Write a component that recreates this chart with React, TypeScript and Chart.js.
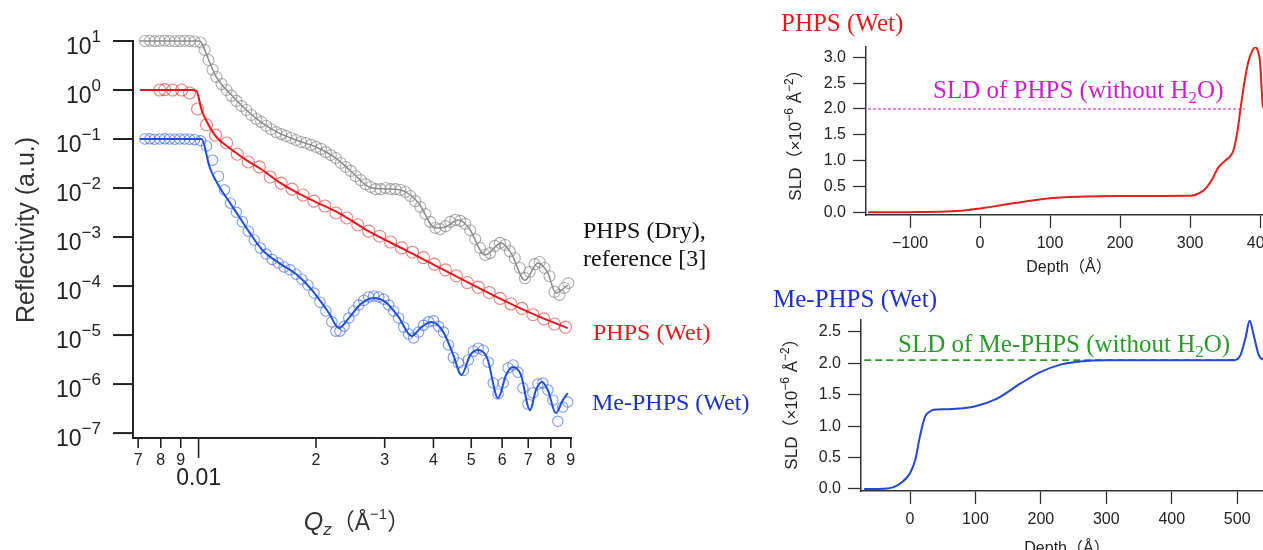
import React, { useEffect, useRef } from "react";
import { Chart, registerables } from "chart.js";
Chart.register(...registerables);

const SANS = "'Liberation Sans', Arial, sans-serif";
const SERIF = "'Liberation Serif', 'Times New Roman', serif";
const CJK = "'Liberation Sans', 'Noto Sans CJK JP', sans-serif";

// ---------- Reflectivity (left panel) ----------
// PHPS (Dry), reference [3]  (offset x10)
const dryFitQ = [0.00707, 0.01006, 0.0103, 0.01054, 0.01111, 0.012, 0.01326, 0.01457, 0.01609, 0.01778, 0.02, 0.02249, 0.02471, 0.02779, 0.0307, 0.03394, 0.03663, 0.04047, 0.04293, 0.04632, 0.04912, 0.05429, 0.05965, 0.06324, 0.06866, 0.07412, 0.0786, 0.08237, 0.08838];
const dryFitR = [10, 10, 7.6, 4.71, 1.84, 0.869, 0.391, 0.212, 0.132, 0.0955, 0.0687, 0.0409, 0.0212, 0.01, 0.00955, 0.00832, 0.00494, 0.00153, 0.0016, 0.00222, 0.0016, 0.00043, 0.000755, 0.000471, 0.000132, 0.000294, 0.000184, 0.0000719, 0.000105];
const dryQ = [0.00728, 0.0075, 0.00772, 0.00795, 0.00819, 0.00843, 0.00869, 0.00895, 0.00921, 0.00948, 0.00977, 0.01012, 0.01036, 0.0106, 0.01086, 0.01111, 0.01145, 0.0118, 0.01214, 0.0125, 0.01288, 0.01326, 0.01365, 0.01406, 0.01447, 0.0149, 0.01535, 0.01581, 0.01628, 0.01676, 0.01727, 0.01778, 0.01831, 0.01885, 0.01941, 0.02, 0.02059, 0.0212, 0.02183, 0.02249, 0.02316, 0.02384, 0.02456, 0.02529, 0.02604, 0.02681, 0.02761, 0.02843, 0.02927, 0.03014, 0.03104, 0.03196, 0.03291, 0.03394, 0.03492, 0.03596, 0.03703, 0.03813, 0.03926, 0.04047, 0.0416, 0.04293, 0.0442, 0.04552, 0.04687, 0.04826, 0.04969, 0.05117, 0.05269, 0.05429, 0.05586, 0.05752, 0.05923, 0.06107, 0.0628, 0.06467, 0.06659, 0.06866, 0.0706, 0.0727, 0.07486, 0.07708, 0.07937, 0.08173, 0.08416, 0.08666, 0.0887];
const dryR = [10, 10.1, 9.9, 10, 10.1, 10, 9.9, 10, 10.1, 10, 9.8, 9.3, 6.6, 4.1, 2.6, 1.84, 1.32, 1.0, 0.76, 0.6, 0.47, 0.39, 0.31, 0.257, 0.224, 0.186, 0.158, 0.138, 0.126, 0.115, 0.105, 0.0955, 0.087, 0.083, 0.076, 0.069, 0.063, 0.054, 0.047, 0.041, 0.0324, 0.0269, 0.0224, 0.0174, 0.0145, 0.012, 0.0105, 0.0095, 0.0095, 0.01, 0.0095, 0.0095, 0.0091, 0.0083, 0.0069, 0.0054, 0.0041, 0.00295, 0.00204, 0.00153, 0.00145, 0.00167, 0.00204, 0.00224, 0.00214, 0.00186, 0.00138, 0.00091, 0.0006, 0.00043, 0.00047, 0.00066, 0.00076, 0.00069, 0.00051, 0.00037, 0.000234, 0.000145, 0.000195, 0.00028, 0.00031, 0.000234, 0.000158, 0.000076, 0.000066, 0.000091, 0.000115];

// PHPS (Wet)
const wetFitQ = [0.00707, 0.0096, 0.00988, 0.01018, 0.01054, 0.01111, 0.012, 0.01326, 0.01457, 0.01609, 0.01778, 0.02, 0.0229, 0.02779, 0.03394, 0.04119, 0.05, 0.06107, 0.07412, 0.08838];
const wetFitR = [1, 1, 0.95, 0.391, 0.212, 0.11, 0.0655, 0.0372, 0.0233, 0.0132, 0.00828, 0.00518, 0.00309, 0.00121, 0.000543, 0.000244, 0.00011, 0.0000494, 0.0000244, 0.0000139];
const wetQ = [0.00795, 0.00819, 0.00858, 0.00905, 0.00948, 0.00994, 0.01048, 0.01105, 0.0118, 0.01257, 0.01341, 0.01431, 0.01526, 0.01628, 0.01737, 0.01853, 0.01976, 0.02108, 0.02249, 0.02399, 0.02559, 0.0273, 0.02912, 0.03106, 0.03313, 0.03534, 0.0377, 0.04021, 0.04293, 0.04579, 0.04885, 0.05211, 0.0556, 0.0593, 0.06324, 0.06746, 0.07198, 0.07677, 0.08173, 0.0872];
const wetR = [1.0, 1.02, 1.0, 1.0, 0.87, 0.41, 0.195, 0.12, 0.083, 0.049, 0.034, 0.027, 0.0168, 0.0126, 0.0095, 0.0072, 0.0054, 0.0043, 0.0031, 0.00245, 0.00178, 0.00132, 0.00104, 0.00079, 0.0006, 0.00049, 0.00038, 0.00028, 0.000214, 0.000162, 0.000118, 0.000095, 0.000074, 0.000056, 0.000043, 0.000035, 0.000026, 0.0000214, 0.0000168, 0.0000145];

// Me-PHPS (Wet)  (offset x0.1)
const meFitQ = [0.00707, 0.01018, 0.01067, 0.01131, 0.012, 0.01272, 0.01349, 0.01457, 0.01609, 0.01778, 0.01953, 0.02159, 0.0229, 0.02428, 0.02605, 0.02812, 0.03017, 0.03257, 0.03515, 0.03728, 0.03954, 0.04243, 0.04499, 0.04716, 0.04972, 0.05211, 0.05494, 0.05859, 0.06141, 0.06399, 0.06707, 0.07071, 0.07325, 0.07588, 0.0786, 0.08237, 0.08584, 0.08838];
const meFitR = [0.1, 0.1, 0.0269, 0.0105, 0.00518, 0.00256, 0.00126, 0.000543, 0.000294, 0.000176, 0.0000828, 0.0000281, 0.0000139, 0.0000222, 0.000043, 0.0000569, 0.0000471, 0.0000233, 0.00000955, 0.0000146, 0.0000184, 0.0000115, 0.00000391, 0.00000153, 0.00000391, 0.00000494, 0.0000034, 5.18e-7, 1.53e-6, 2.22e-6, 1.53e-6, 2.94e-7, 7.55e-7, 1.1e-6, 7.55e-7, 2.56e-7, 4.71e-7, 6.55e-7];
const meQ = [0.00728, 0.0075, 0.00772, 0.00795, 0.00819, 0.00843, 0.00869, 0.00895, 0.00921, 0.00948, 0.00977, 0.01012, 0.01048, 0.01086, 0.01125, 0.01165, 0.01207, 0.0125, 0.01295, 0.01341, 0.01389, 0.01439, 0.0149, 0.01544, 0.01599, 0.01656, 0.01716, 0.01778, 0.0184, 0.01907, 0.01976, 0.02047, 0.0212, 0.02196, 0.02249, 0.02303, 0.0236, 0.02428, 0.025, 0.02574, 0.02651, 0.0273, 0.02812, 0.02896, 0.02982, 0.03071, 0.03163, 0.03257, 0.03355, 0.03455, 0.03558, 0.03664, 0.03774, 0.03887, 0.04003, 0.04122, 0.04243, 0.0437, 0.04499, 0.04634, 0.04773, 0.04915, 0.05062, 0.05211, 0.05368, 0.05528, 0.05693, 0.05859, 0.06036, 0.06217, 0.06399, 0.0659, 0.06786, 0.06988, 0.07196, 0.07412, 0.07634, 0.0786, 0.08094, 0.08336, 0.08584, 0.08838];
const meR = [0.1, 0.101, 0.099, 0.1, 0.101, 0.1, 0.099, 0.1, 0.1, 0.099, 0.097, 0.092, 0.072, 0.037, 0.0174, 0.0091, 0.0049, 0.0032, 0.00204, 0.00132, 0.00087, 0.0006, 0.00045, 0.00035, 0.000295, 0.000245, 0.000214, 0.000174, 0.000138, 0.000105, 0.000072, 0.000047, 0.000031, 0.0000186, 0.000012, 0.000012, 0.0000151, 0.0000224, 0.000031, 0.000041, 0.000051, 0.00006, 0.000063, 0.00006, 0.000054, 0.000041, 0.000031, 0.0000224, 0.0000145, 0.0000105, 0.0000087, 0.0000115, 0.0000158, 0.0000186, 0.0000195, 0.0000151, 0.0000115, 0.0000063, 0.0000035, 0.0000027, 0.0000019, 0.0000031, 0.0000047, 0.0000054, 0.0000049, 0.0000028, 0.00000105, 6.3e-7, 1.05e-6, 2.14e-6, 2.45e-6, 1.74e-6, 8.3e-7, 3.9e-7, 6.6e-7, 1.0e-6, 1.05e-6, 7.6e-7, 4.7e-7, 1.74e-7, 3.4e-7, 4.3e-7];

// axis ticks (left panel)
const reflTickValues = [10, 1, 0.1, 0.01, 1e-3, 1e-4, 1e-5, 1e-6, 1e-7];
const reflTickExps = ["1", "0", "\u22121", "\u22122", "\u22123", "\u22124", "\u22125", "\u22126", "\u22127"];
const qMinorTicks = [0.007, 0.008, 0.009];
const qMinorLabels = ["7", "8", "9"];
const qDecadeTick = 0.01;
const qDecadeLabel = "0.01";
const qMajorTicks = [0.02, 0.03, 0.04, 0.05, 0.06, 0.07, 0.08, 0.09];
const qMajorLabels = ["2", "3", "4", "5", "6", "7", "8", "9"];

// ---------- SLD profiles (right panels) ----------
const phpsDepth = [-160, -100, -50, -20, 0, 20, 40, 60, 80, 100, 120, 150, 200, 250, 300, 310, 320, 330, 340, 350, 357, 362, 368, 373, 378, 383, 388, 393, 397, 400, 402, 404, 408, 450];
const phpsSLD = [0, 0.003, 0.015, 0.04, 0.075, 0.115, 0.16, 0.2, 0.24, 0.27, 0.29, 0.305, 0.315, 0.318, 0.32, 0.35, 0.43, 0.6, 0.86, 1.0, 1.08, 1.2, 1.6, 2.1, 2.55, 2.9, 3.1, 3.2, 3.12, 2.9, 2.45, 2.05, 2.0, 2.0];
const phpsBulkSLD = 2.0;
const phpsBulkRange = [-160, 378];
const phpsYTicks = [0, 0.5, 1.0, 1.5, 2.0, 2.5, 3.0];
const phpsXTicks = [-100, 0, 100, 200, 300, 400];

const meDepth = [-70, -40, -25, -11, 0, 8, 15, 23, 30, 36, 56, 97, 133, 169, 199, 230, 260, 300, 495, 505, 513, 519, 525, 533, 540, 560, 600];
const meSLD = [0, 0.005, 0.03, 0.12, 0.25, 0.46, 0.83, 1.15, 1.23, 1.26, 1.27, 1.31, 1.44, 1.68, 1.86, 1.98, 2.03, 2.05, 2.05, 2.13, 2.42, 2.68, 2.46, 2.13, 2.06, 2.05, 2.05];
const meBulkSLD = 2.05;
const meBulkRange = [-70, 500];
const meYTicks = [0, 0.5, 1.0, 1.5, 2.0, 2.5];
const meXTicks = [0, 100, 200, 300, 400, 500];

// ---------- helpers ----------
type Part = { t: string; f: string; dy?: number };
function rich(ctx: CanvasRenderingContext2D, parts: Part[], x: number, y: number, align: "left" | "center" | "right", color: string) {
  ctx.save();
  ctx.fillStyle = color;
  ctx.textBaseline = "alphabetic";
  ctx.textAlign = "left";
  let w = 0;
  for (const p of parts) { ctx.font = p.f; w += ctx.measureText(p.t).width; }
  let cx = align === "left" ? x : align === "center" ? x - w / 2 : x - w;
  for (const p of parts) {
    ctx.font = p.f;
    ctx.fillText(p.t, cx, y + (p.dy || 0));
    cx += ctx.measureText(p.t).width;
  }
  ctx.restore();
}
const pts = (xs: number[], ys: number[]) => xs.map((x, i) => ({ x, y: ys[i] }));

function reflConfig(): any {
  const lineDs = (q: number[], r: number[], color: string, w: number) => ({
    type: "line", data: pts(q, r), borderColor: color, borderWidth: w, pointRadius: 0,
    cubicInterpolationMode: "monotone", fill: false, order: 0, clip: false,
  });
  const markDs = (q: number[], r: number[], color: string, rad: number) => ({
    type: "scatter", data: pts(q, r), borderColor: color, backgroundColor: "rgba(0,0,0,0)",
    pointRadius: rad, pointBorderWidth: 1.1, borderWidth: 1.1, showLine: false, order: 1, clip: false,
  });
  const deco = {
    id: "reflDeco",
    afterDraw(chart: any) {
      const ctx = chart.ctx as CanvasRenderingContext2D;
      const xs = chart.scales.x, ys = chart.scales.y;
      const ca = chart.chartArea;
      ctx.save();
      ctx.strokeStyle = "#222";
      ctx.lineWidth = 2;
      reflTickValues.forEach((v, i) => {
        const y = ys.getPixelForValue(v);
        ctx.beginPath(); ctx.moveTo(ca.left - 20, y); ctx.lineTo(ca.left, y); ctx.stroke();
        rich(ctx, [
          { t: "10", f: `23px ${SANS}` },
          { t: reflTickExps[i], f: `17px ${SANS}`, dy: -12 },
        ], 101, y + 13, "right", "#222");
      });
      const tick = (v: number, len: number) => {
        const x = xs.getPixelForValue(v);
        ctx.beginPath(); ctx.moveTo(x, ca.bottom); ctx.lineTo(x, ca.bottom + len); ctx.stroke();
        return x;
      };
      ctx.lineWidth = 1.6;
      qMinorTicks.forEach((v, i) => {
        const x = tick(v, 10);
        rich(ctx, [{ t: qMinorLabels[i], f: `16px ${SANS}` }], x, 465, "center", "#222");
      });
      const xd = tick(qDecadeTick, 20);
      rich(ctx, [{ t: qDecadeLabel, f: `23px ${SANS}` }], xd, 485, "center", "#222");
      qMajorTicks.forEach((v, i) => {
        const x = tick(v, 10);
        rich(ctx, [{ t: qMajorLabels[i], f: `16px ${SANS}` }], x, 465, "center", "#222");
      });
      ctx.restore();
      ctx.save();
      ctx.translate(25, 230);
      ctx.rotate(-Math.PI / 2);
      rich(ctx, [{ t: "Reflectivity (a.u.)", f: `25px ${SANS}` }], 0, 9, "center", "#333");
      ctx.restore();
      rich(ctx, [
        { t: "Q", f: `italic 25px ${SANS}` },
        { t: "z", f: `italic 17px ${SANS}`, dy: 5 },
        { t: "\uFF08\u00C5", f: `23px ${CJK}` },
        { t: "\u22121", f: `15px ${SANS}`, dy: -11 },
        { t: "\uFF09", f: `23px ${CJK}` },
      ], 357, 530, "center", "#333");
      rich(ctx, [{ t: "PHPS (Dry),", f: `24px ${SERIF}` }], 583, 238, "left", "#111");
      rich(ctx, [{ t: "reference [3]", f: `24px ${SERIF}` }], 583, 266, "left", "#111");
      rich(ctx, [{ t: "PHPS (Wet)", f: `24px ${SERIF}` }], 593, 340, "left", "#e31b1b");
      rich(ctx, [{ t: "Me-PHPS (Wet)", f: `24px ${SERIF}` }], 592, 410, "left", "#1c30cc");
    },
  };
  return {
    type: "scatter",
    data: {
      datasets: [
        lineDs(dryFitQ, dryFitR, "#8a8a8a", 1.5),
        lineDs(wetFitQ, wetFitR, "#e8161b", 2),
        lineDs(meFitQ, meFitR, "#1d4fd8", 2),
        markDs(dryQ, dryR, "rgba(135,135,135,0.7)", 5.5),
        markDs(wetQ, wetR, "rgba(228,60,60,0.65)", 6),
        markDs(meQ, meR, "rgba(60,100,230,0.65)", 5.2),
      ],
    },
    options: {
      animation: false,
      responsive: false,
      layout: { padding: { left: 0, top: 41, right: 780 - 571, bottom: 0 } },
      plugins: { legend: { display: false }, tooltip: { enabled: false } },
      scales: {
        x: {
          type: "logarithmic", min: 0.00679, max: 0.0901,
          grid: { display: false }, ticks: { display: false },
          border: { display: true, color: "#222", width: 2 },
          afterFit: (s: any) => { s.height = 112; },
        },
        y: {
          type: "logarithmic", min: 7.94e-8, max: 10,
          grid: { display: false }, ticks: { display: false },
          border: { display: true, color: "#222", width: 2 },
          afterFit: (s: any) => { s.width = 133; },
        },
      },
    },
    plugins: [deco],
  };
}

interface SldOpts {
  depth: number[]; sld: number[]; color: string;
  bulk: number; bulkRange: number[]; bulkColor: string; bulkTextColor: string; bulkDash: number[]; bulkWidth: number;
  xMin: number; xMax: number; yMin: number; yMax: number;
  xTicks: number[]; yTicks: number[];
  padTop: number; yWidth: number; xHeight: number;
  offX: number; offY: number;
  title: string; titleColor: string; titleX: number; titleY: number;
  bulkLabel: string; bulkLabelX: number; bulkLabelY: number;
  yTitleX: number; yTitleY: number; xTitleX: number; xTitleY: number;
}

function sldConfig(o: SldOpts): any {
  const deco = {
    id: "sldDeco",
    afterDraw(chart: any) {
      const ctx = chart.ctx as CanvasRenderingContext2D;
      const X = (v: number) => v - o.offX, Y = (v: number) => v - o.offY;
      rich(ctx, [{ t: o.title, f: `25px ${SERIF}` }], X(o.titleX), Y(o.titleY), "left", o.titleColor);
      rich(ctx, [
        { t: o.bulkLabel + " (without H", f: `25px ${SERIF}` },
        { t: "2", f: `17px ${SERIF}`, dy: 5 },
        { t: "O)", f: `25px ${SERIF}` },
      ], X(o.bulkLabelX), Y(o.bulkLabelY), "left", o.bulkTextColor);
      ctx.save();
      ctx.translate(X(o.yTitleX), Y(o.yTitleY));
      ctx.rotate(-Math.PI / 2);
      rich(ctx, [
        { t: "SLD\uFF08\u00D710", f: `17px ${CJK}` },
        { t: "\u22126", f: `12px ${SANS}`, dy: -8 },
        { t: " \u00C5", f: `17px ${SANS}` },
        { t: "\u22122", f: `12px ${SANS}`, dy: -8 },
        { t: "\uFF09", f: `17px ${CJK}` },
      ], 0, 6, "center", "#222");
      ctx.restore();
      rich(ctx, [{ t: "Depth\uFF08\u00C5\uFF09", f: `16px ${CJK}` }], X(o.xTitleX), Y(o.xTitleY) + 6, "center", "#222");
    },
  };
  const common = {
    grid: { display: true, drawOnChartArea: false, drawTicks: true, tickLength: 13, tickColor: "#333", tickWidth: 1.3 },
    border: { display: true, color: "#333", width: 1.5 },
  };
  return {
    type: "line",
    data: {
      datasets: [
        { data: pts(o.depth, o.sld), borderColor: o.color, borderWidth: 2, pointRadius: 0, cubicInterpolationMode: "monotone", fill: false, order: 0 },
        { data: pts(o.bulkRange, [o.bulk, o.bulk]), borderColor: o.bulkColor, borderWidth: o.bulkWidth, borderDash: o.bulkDash, pointRadius: 0, fill: false, order: 1 },
      ],
    },
    options: {
      animation: false,
      responsive: false,
      layout: { padding: { left: 0, top: o.padTop, right: 0, bottom: 0 } },
      plugins: { legend: { display: false }, tooltip: { enabled: false } },
      scales: {
        x: {
          type: "linear", min: o.xMin, max: o.xMax, ...common,
          ticks: { autoSkip: false, maxRotation: 0, padding: 6, color: "#222", font: { family: SANS, size: 16 },
            callback: (v: any) => (v < 0 ? "\u2212" + Math.abs(v) : String(v)) },
          afterBuildTicks: (a: any) => { a.ticks = o.xTicks.map((v) => ({ value: v })); },
          afterFit: (s: any) => { s.height = o.xHeight; },
        },
        y: {
          type: "linear", min: o.yMin, max: o.yMax, ...common,
          ticks: { autoSkip: false, padding: 7, color: "#222", font: { family: SANS, size: 16 },
            callback: (v: any) => Number(v).toFixed(1) },
          afterBuildTicks: (a: any) => { a.ticks = o.yTicks.map((v) => ({ value: v })); },
          afterFit: (s: any) => { s.width = o.yWidth; },
        },
      },
    },
    plugins: [deco],
  };
}

function ChartCanvas({ left, top, width, height, make }: { left: number; top: number; width: number; height: number; make: () => any }) {
  const ref = useRef<HTMLCanvasElement>(null);
  useEffect(() => {
    const c = new Chart(ref.current as HTMLCanvasElement, make());
    return () => c.destroy();
  }, []);
  return <canvas ref={ref} width={width} height={height} style={{ position: "absolute", left, top, width, height }} />;
}

export default function App() {
  return (
    <div style={{ position: "absolute", left: 0, top: 0, width: 1263, height: 550, overflow: "hidden", background: "#fff" }}>
      <ChartCanvas left={0} top={0} width={780} height={550} make={reflConfig} />
      <ChartCanvas left={740} top={0} width={560} height={280} make={() => sldConfig({
        depth: phpsDepth, sld: phpsSLD, color: "#e0201c",
        bulk: phpsBulkSLD, bulkRange: phpsBulkRange, bulkColor: "#e060e0", bulkTextColor: "#d01cd0", bulkDash: [3, 2], bulkWidth: 1.3,
        xMin: -162.9, xMax: 457, yMin: -0.052, yMax: 3.2,
        xTicks: phpsXTicks, yTicks: phpsYTicks,
        padTop: 47, yWidth: 126, xHeight: 65, offX: 740, offY: 0,
        title: "PHPS (Wet)", titleColor: "#e31a1a", titleX: 781, titleY: 31,
        bulkLabel: "SLD of PHPS", bulkLabelX: 933, bulkLabelY: 98,
        yTitleX: 795, yTitleY: 131, xTitleX: 1069, xTitleY: 266,
      })} />
      <ChartCanvas left={740} top={280} width={560} height={270} make={() => sldConfig({
        depth: meDepth, sld: meSLD, color: "#2347d0",
        bulk: meBulkSLD, bulkRange: meBulkRange, bulkColor: "#2a9a2a", bulkTextColor: "#2a9a2a", bulkDash: [7, 4], bulkWidth: 1.8,
        xMin: -74.9, xMax: 596, yMin: -0.032, yMax: 2.69,
        xTicks: meXTicks, yTicks: meYTicks,
        padTop: 40, yWidth: 121, xHeight: 59, offX: 740, offY: 280,
        title: "Me-PHPS (Wet)", titleColor: "#1c30cc", titleX: 773, titleY: 307,
        bulkLabel: "SLD of Me-PHPS", bulkLabelX: 898, bulkLabelY: 352,
        yTitleX: 791, yTitleY: 400, xTitleX: 1067, xTitleY: 547,
      })} />
    </div>
  );
}
